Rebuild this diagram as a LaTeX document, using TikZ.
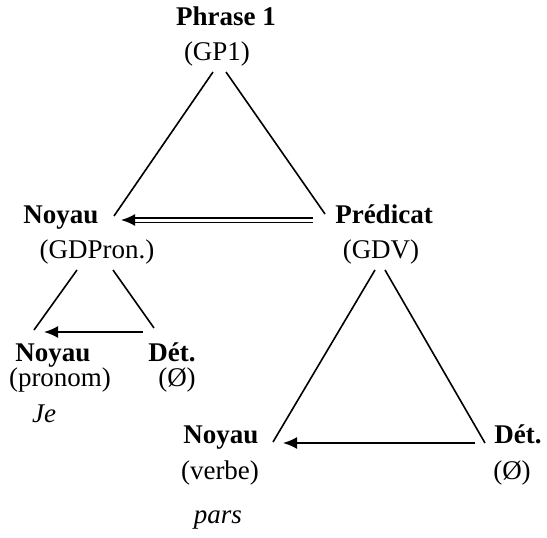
\documentclass[tikz,border=0pt]{standalone}
\usepackage{fontspec}
\setmainfont{Liberation Serif}
\usetikzlibrary{arrows.meta}

\begin{document}
\begin{tikzpicture}[x=1pt,y=-1pt,
    font=\fontsize{27}{32}\selectfont,
    lbl/.style={anchor=base,inner sep=0pt},
    head/.style={lbl,font=\fontsize{27}{32}\selectfont\bfseries},
    word/.style={lbl,font=\fontsize{27}{32}\selectfont\itshape},
    branch/.style={line width=1.6pt},
    arr/.style={line width=2pt,-{Latex[length=14pt,width=12pt]}},
    dbl/.style={line width=1.6pt,double distance=3pt}]
    \useasboundingbox (0,0) rectangle (547,538);
    % labels
    \node[head] (phr) at (226,26) {Phrase 1};
    \node[lbl] (gp) at (217,60) {(GP1)};
    \node[head] (noyA) at (61,223) {Noyau};
    \node[lbl] (gdpron) at (97,258) {(GDPron.)};
    \node[head] (pred) at (384,223) {Prédicat};
    \node[lbl] (gdv) at (381,258) {(GDV)};
    \node[head] (noyB) at (53,361) {Noyau};
    \node[lbl] (pronom) at (60,386) {(pronom)};
    \node[head] (detB) at (172,361) {Dét.};
    \node[lbl] (videB) at (177,386) {(Ø)};
    \node[word] (je) at (44,422) {Je};
    \node[head] (noyC) at (221,443) {Noyau};
    \node[lbl] (verbe) at (220,479) {(verbe)};
    \node[word] (pars) at (218,523) {pars};
    \node[head] (detC) at (518,443) {Dét.};
    \node[lbl] (videC) at (512,479) {(Ø)};
    % line ends
    \coordinate (gpL) at (213,72);   \coordinate (gpR) at (226,72);
    \coordinate (noyAR) at (114,216); \coordinate (predL) at (325,214);
    \coordinate (dblA) at (313,220); \coordinate (dblB) at (135,220);
    \coordinate (noyAtip) at (121,220);
    \coordinate (gdpL) at (77,270);  \coordinate (gdpR) at (113,270);
    \coordinate (noyBR) at (34,330); \coordinate (detBL) at (154,328);
    \coordinate (arrB1) at (143,332); \coordinate (arrB2) at (44,332);
    \coordinate (gdvL) at (375,270); \coordinate (gdvR) at (385,270);
    \coordinate (noyCR) at (273,442); \coordinate (detCL) at (485,443);
    \coordinate (arrC1) at (475,443); \coordinate (arrC2) at (283,443);
    % triangles
    \draw[branch] (gpL) -- (noyAR);
    \draw[branch] (gpR) -- (predL);
    \draw[branch] (gdpL) -- (noyBR);
    \draw[branch] (gdpR) -- (detBL);
    \draw[branch] (gdvL) -- (noyCR);
    \draw[branch] (gdvR) -- (detCL);
    % arrows
    \draw[dbl] (dblA) -- (dblB);
    \draw[arr] (dblB) -- (noyAtip);
    \draw[arr] (arrB1) -- (arrB2);
    \draw[arr] (arrC1) -- (arrC2);
\end{tikzpicture}
\end{document}
